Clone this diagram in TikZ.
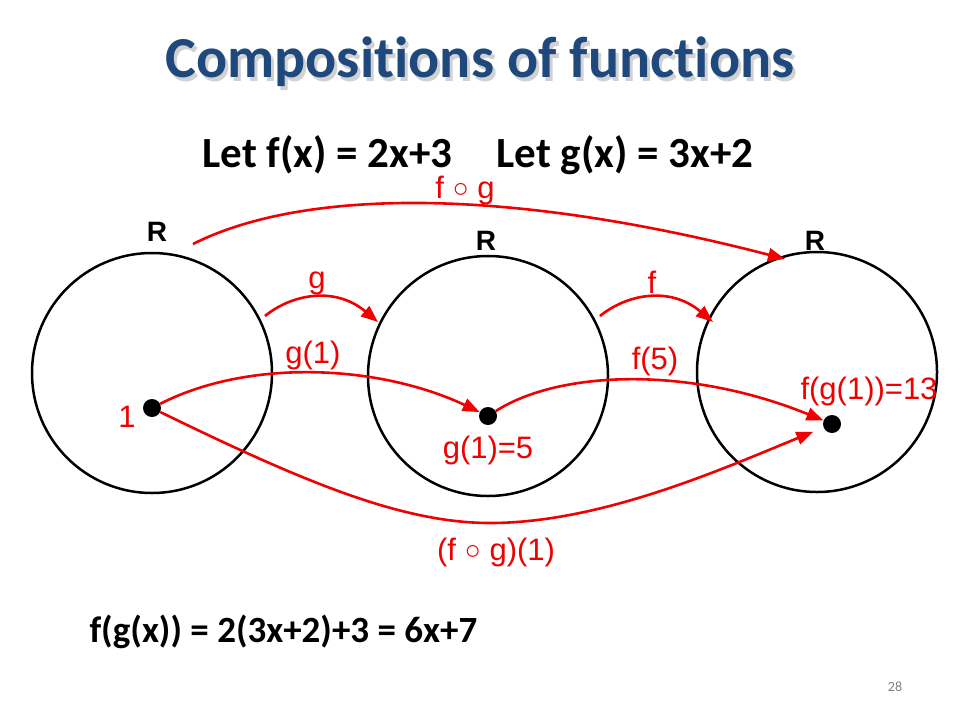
\documentclass[tikz,border=0pt]{standalone}
\usepackage{fontspec}
\setmainfont{Carlito}[Ligatures=NoCommon]
\newfontfamily\arialf{Liberation Sans}
\usetikzlibrary{arrows.meta}
\definecolor{titleblue}{RGB}{31,73,125}
\definecolor{redline}{RGB}{240,0,0}
\tikzset{
  ring/.style={draw=black, line width=2.5pt, circle, minimum size=240pt, inner sep=0pt},
  pt/.style={fill=black, circle, minimum size=18pt, inner sep=0pt},
  rlab/.style={text=redline, font=\arialf\fontsize{31}{33}\selectfont, inner sep=0pt},
  Rlab/.style={font=\arialf\bfseries\fontsize{28}{30}\selectfont, inner sep=0pt},
  redarrow/.style={draw=redline, line width=2.6pt, -{Triangle[length=17pt,width=13pt]}},
}
\newcommand{\smallcirc}{\raisebox{1pt}{\fontsize{27}{28}\selectfont ○}}
\begin{document}
\begin{tikzpicture}[x=1pt,y=-1pt]
\useasboundingbox (0,0) rectangle (960,720);
% title
\node[text=black!18, font=\bfseries\fontsize{58}{62}\selectfont] at (483,66) {Compositions of functions};
\node[text=titleblue, font=\bfseries\fontsize{58}{62}\selectfont] (title) at (480,62) {Compositions of functions};
\node[font=\bfseries\fontsize{43}{46}\selectfont, anchor=west] (letf) at (199,155) {Let f(x) = 2x+3};
\node[font=\bfseries\fontsize{43}{46}\selectfont, anchor=west] (letg) at (493,155) {Let g(x) = 3x+2};
% circles
\node[ring] (c1) at (152,373) {};
\node[ring] (c2) at (488,376) {};
\node[ring] (c3) at (817,372) {};
\node[Rlab] (R1) at (157,232) {R};
\node[Rlab] (R2) at (486,241) {R};
\node[Rlab] (R3) at (815,241) {R};
% dots
\node[pt] (d1) at (152,408) {};
\node[pt] (d2) at (488,416) {};
\node[pt] (d3) at (832,424) {};
% free ends
\coordinate (fgs) at (193,244);
\coordinate (fge) at (785,259);
\coordinate (gs) at (265,316);
\coordinate (ge) at (378,322);
\coordinate (fs) at (600,316);
\coordinate (fe) at (713,322);
% arrows
\draw[redarrow] (fgs) .. controls (300,190) and (500,185) .. (fge);
\draw[redarrow] (gs) .. controls (292,294) and (335,286) .. (ge);
\draw[redarrow] (fs) .. controls (627,294) and (670,286) .. (fe);
\draw[redarrow] (d1) .. controls (250,358) and (380,365) .. (d2);
\draw[redarrow] (d2) .. controls (560,370) and (690,366) .. (d3);
\draw[redarrow, shorten >=11pt] (d1) .. controls (300,480) and (400,523) .. (490,523) .. controls (600,523) and (720,470) .. (d3);
% labels
\node[rlab] (lfg) at (465,190) {f \smallcirc{} g};
\node[rlab] (lg) at (317,283) {g};
\node[rlab] (lf) at (652,282) {f};
\node[rlab] (lg1) at (313,355) {g(1)};
\node[rlab] (l1) at (127,417) {1};
\node[rlab] (lg15) at (488,450) {g(1)=5};
\node[rlab] (lf5) at (655,361) {f(5)};
\node[rlab] (lfg13) at (869,391) {f(g(1))=13};
\node[rlab] (lfg1) at (496,552) {(f \smallcirc{} g)(1)};
% equation
\node[font=\bfseries\fontsize{37}{39}\selectfont, anchor=west] (eq) at (86,632) {f(g(x)) = 2(3x+2)+3 = 6x+7};
\node[text=black!50, font=\fontsize{14}{16}\selectfont] (pg) at (895,687) {28};
\end{tikzpicture}
\end{document}
